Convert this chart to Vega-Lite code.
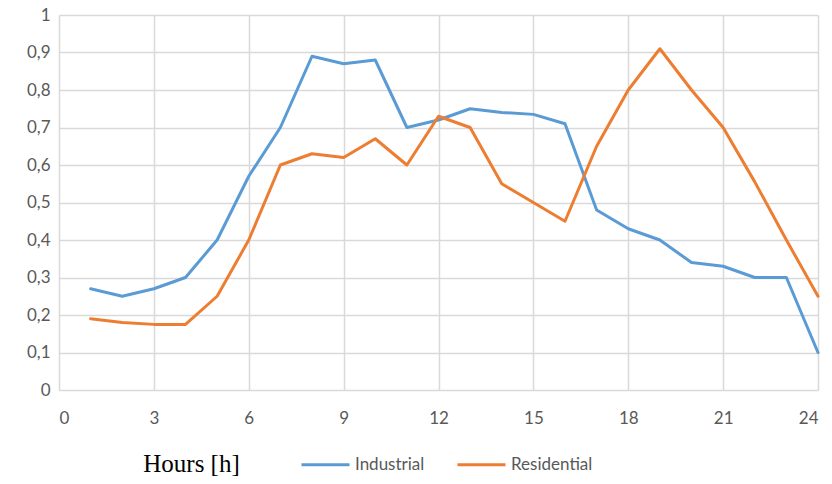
{
  "$schema": "https://vega.github.io/schema/vega-lite/v6.json",
  "width": 759,
  "height": 375,
  "autosize": {"type": "none"},
  "padding": {"left": 59, "top": 15, "right": 14, "bottom": 94},
  "background": "white",
  "config": {
    "view": {"stroke": null},
    "font": "Lato"
  },
  "data": {
    "values": [
      {"hour": 1, "series": "Industrial", "value": 0.27},
      {"hour": 2, "series": "Industrial", "value": 0.25},
      {"hour": 3, "series": "Industrial", "value": 0.27},
      {"hour": 4, "series": "Industrial", "value": 0.30},
      {"hour": 5, "series": "Industrial", "value": 0.40},
      {"hour": 6, "series": "Industrial", "value": 0.57},
      {"hour": 7, "series": "Industrial", "value": 0.70},
      {"hour": 8, "series": "Industrial", "value": 0.89},
      {"hour": 9, "series": "Industrial", "value": 0.87},
      {"hour": 10, "series": "Industrial", "value": 0.88},
      {"hour": 11, "series": "Industrial", "value": 0.70},
      {"hour": 12, "series": "Industrial", "value": 0.72},
      {"hour": 13, "series": "Industrial", "value": 0.75},
      {"hour": 14, "series": "Industrial", "value": 0.74},
      {"hour": 15, "series": "Industrial", "value": 0.735},
      {"hour": 16, "series": "Industrial", "value": 0.71},
      {"hour": 17, "series": "Industrial", "value": 0.48},
      {"hour": 18, "series": "Industrial", "value": 0.43},
      {"hour": 19, "series": "Industrial", "value": 0.40},
      {"hour": 20, "series": "Industrial", "value": 0.34},
      {"hour": 21, "series": "Industrial", "value": 0.33},
      {"hour": 22, "series": "Industrial", "value": 0.30},
      {"hour": 23, "series": "Industrial", "value": 0.30},
      {"hour": 24, "series": "Industrial", "value": 0.10},
      {"hour": 1, "series": "Residential", "value": 0.19},
      {"hour": 2, "series": "Residential", "value": 0.18},
      {"hour": 3, "series": "Residential", "value": 0.175},
      {"hour": 4, "series": "Residential", "value": 0.175},
      {"hour": 5, "series": "Residential", "value": 0.25},
      {"hour": 6, "series": "Residential", "value": 0.40},
      {"hour": 7, "series": "Residential", "value": 0.60},
      {"hour": 8, "series": "Residential", "value": 0.63},
      {"hour": 9, "series": "Residential", "value": 0.62},
      {"hour": 10, "series": "Residential", "value": 0.67},
      {"hour": 11, "series": "Residential", "value": 0.60},
      {"hour": 12, "series": "Residential", "value": 0.73},
      {"hour": 13, "series": "Residential", "value": 0.70},
      {"hour": 14, "series": "Residential", "value": 0.55},
      {"hour": 15, "series": "Residential", "value": 0.50},
      {"hour": 16, "series": "Residential", "value": 0.45},
      {"hour": 17, "series": "Residential", "value": 0.65},
      {"hour": 18, "series": "Residential", "value": 0.80},
      {"hour": 19, "series": "Residential", "value": 0.91},
      {"hour": 20, "series": "Residential", "value": 0.80},
      {"hour": 21, "series": "Residential", "value": 0.70},
      {"hour": 22, "series": "Residential", "value": 0.555},
      {"hour": 23, "series": "Residential", "value": 0.40},
      {"hour": 24, "series": "Residential", "value": 0.25}
    ]
  },
  "mark": {"type": "line", "strokeWidth": 3, "strokeJoin": "round", "strokeCap": "round"},
  "encoding": {
    "x": {
      "field": "hour",
      "type": "quantitative",
      "scale": {"domain": [0, 24], "nice": false, "zero": false},
      "axis": {
        "values": [0, 3, 6, 9, 12, 15, 18, 21, 24],
        "title": "Hours [h]",
        "titleFont": "Liberation Serif",
        "titleFontSize": 25,
        "titleFontWeight": "normal",
        "titleColor": "black",
        "titleX": 132,
        "titleY": 73,
        "titleAlign": "center",
        "titleBaseline": "middle",
        "domain": false,
        "ticks": false,
        "grid": true,
        "gridColor": "#d9d9d9",
        "gridWidth": 1.5,
        "labelFont": "Lato",
        "labelFontSize": 17,
        "labelColor": "#595959",
        "labelPadding": 20
      }
    },
    "y": {
      "field": "value",
      "type": "quantitative",
      "scale": {"domain": [0, 1], "nice": false},
      "axis": {
        "values": [0, 0.1, 0.2, 0.3, 0.4, 0.5, 0.6, 0.7, 0.8, 0.9, 1],
        "labelExpr": "replace(format(datum.value, '.2~f'), '.', ',')",
        "title": null,
        "domain": false,
        "ticks": false,
        "grid": true,
        "gridColor": "#d9d9d9",
        "gridWidth": 1.5,
        "labelFont": "Lato",
        "labelFontSize": 17,
        "labelColor": "#595959",
        "labelPadding": 9
      }
    },
    "color": {
      "field": "series",
      "type": "nominal",
      "scale": {"domain": ["Industrial", "Residential"], "range": ["#5B9BD5", "#ED7D31"]},
      "legend": {
        "title": null,
        "orient": "none",
        "direction": "horizontal",
        "legendX": 241,
        "legendY": 424,
        "padding": 0,
        "symbolType": "stroke",
        "symbolSize": 2304,
        "symbolStrokeWidth": 3,
        "labelFont": "Lato",
        "labelFontSize": 17,
        "labelColor": "#595959",
        "labelOffset": 4,
        "columnPadding": 26
      }
    }
  }
}
